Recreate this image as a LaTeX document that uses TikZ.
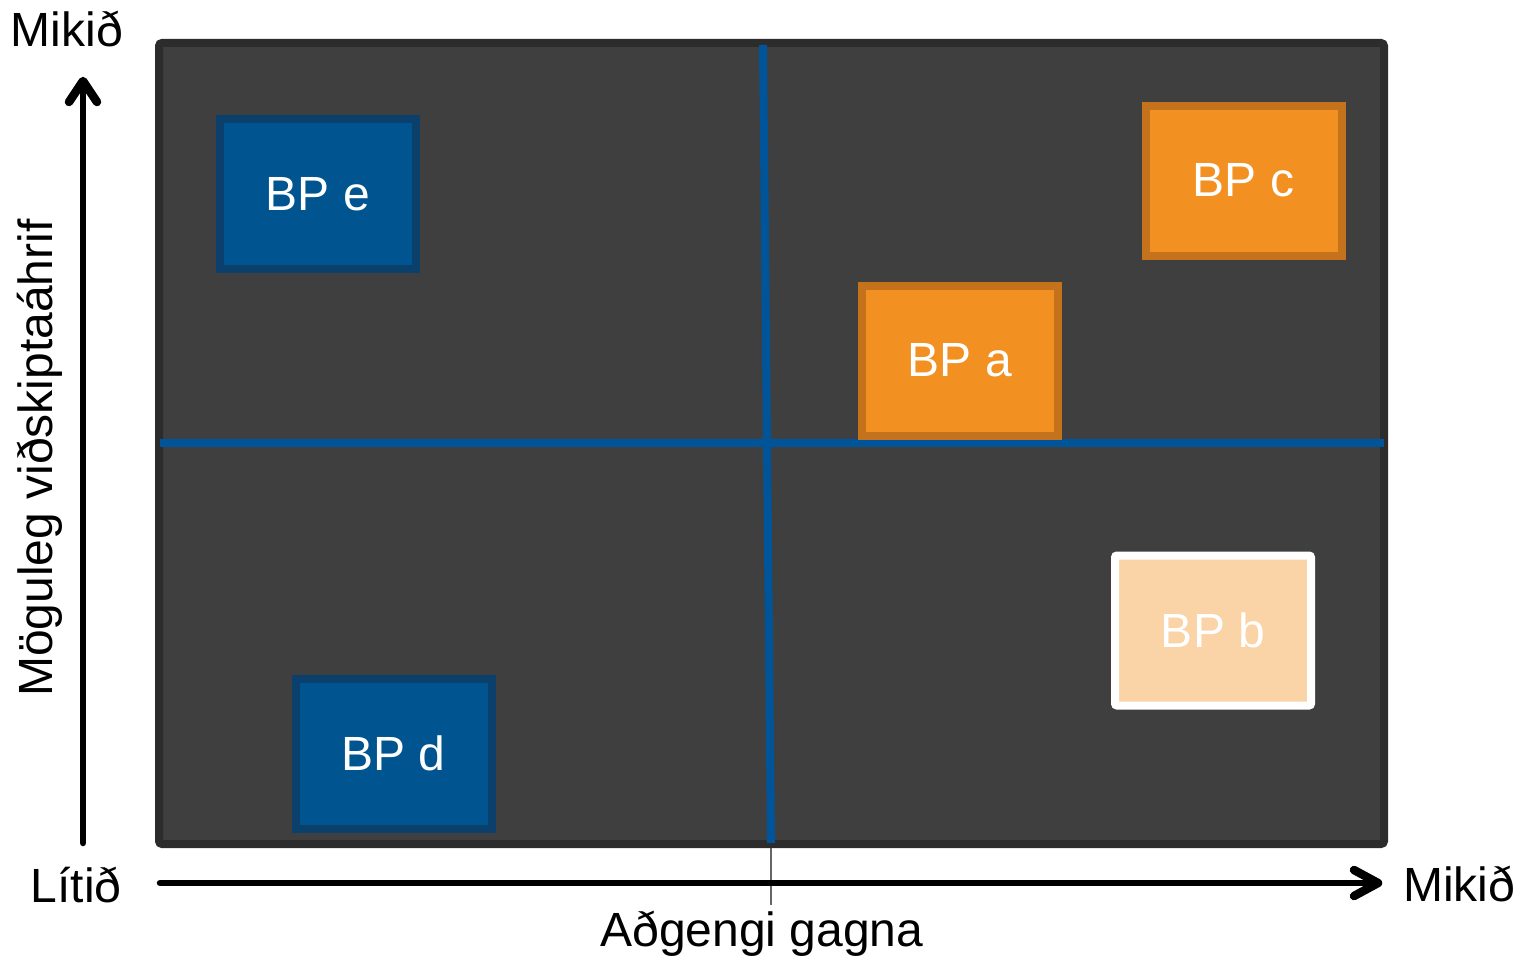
\documentclass[tikz,border=0pt]{standalone}
\usepackage{fontspec}
\setmainfont{Liberation Sans}
\definecolor{panelfill}{HTML}{3F3F3F}
\definecolor{paneledge}{HTML}{2C2C2C}
\definecolor{qline}{HTML}{00559A}
\definecolor{bluefill}{HTML}{00548F}
\definecolor{blueedge}{HTML}{0B3F6C}
\definecolor{orangefill}{HTML}{F29021}
\definecolor{orangeedge}{HTML}{C5721C}
\definecolor{lightfill}{HTML}{FAD3A6}
\tikzset{
  bpbox/.style={rectangle, line width=8pt, minimum width=196pt, minimum height=150pt,
    text=white, font=\fontsize{48}{52}\selectfont, inner sep=0pt},
  bpblue/.style={bpbox, fill=bluefill, draw=blueedge},
  bporange/.style={bpbox, fill=orangefill, draw=orangeedge},
  bplight/.style={bpbox, fill=lightfill, draw=white, rounded corners=2pt},
  axlabel/.style={font=\fontsize{48}{52}\selectfont, inner sep=0pt, anchor=base},
  axline/.style={line width=6.5pt, line cap=round, line join=round},
  axhead/.style={line width=8.5pt, line cap=round, line join=round},
  quad/.style={line width=8pt, draw=qline}
}
\begin{document}
\begin{tikzpicture}[x=1pt,y=-1pt]
\useasboundingbox (0,0) rectangle (1525,958);
% panel
\node (panel) [draw=paneledge, fill=panelfill, line width=8pt, rounded corners=3pt,
  minimum width=1225pt, minimum height=801pt, inner sep=0pt] at (771.5,443.5) {};
% quadrant lines
\coordinate (vt) at (763,45);
\coordinate (vb) at (771,843);
\coordinate (hl) at (160,443);
\coordinate (hr) at (1384,443);
\draw[quad] (vt) -- (vb);
\draw[quad] (hl) -- (hr);
% thin tick
\coordinate (tt) at (771,848);
\coordinate (tb) at (771,905);
\draw[black!60, line width=1.5pt] (tt) -- (tb);
% boxes
\node (e) [bpblue] at (318,194) {BP e};
\node (d) [bpblue] at (393.5,753.5) {BP d};
\node (c) [bporange] at (1243.5,180.5) {BP c};
\node (a) [bporange] at (960,360.5) {BP a};
\node (b) [bplight] at (1213,630.5) {BP b};
% axes
\coordinate (yb) at (83,843);
\coordinate (yt) at (83,81);
\coordinate (xl) at (160,883);
\coordinate (xr) at (1378,883);
\draw[axline] (yb) -- (yt);
\draw[axhead] (yt) ++(-14,21) -- (yt) -- ++(14,21);
\draw[axline] (xl) -- (xr);
\draw[axhead] (xr) ++(-24,-13) -- (xr) -- ++(-24,13);
% labels
\node (ytop) [axlabel] at (67,47) {Mikið};
\node (xleft) [axlabel] at (76,902) {Lítið};
\node (xright) [axlabel] at (1459,901) {Mikið};
\node (xname) [axlabel] at (762,946) {Aðgengi gagna};
\node (yname) [axlabel, rotate=90] at (52,458) {Möguleg viðskiptaáhrif};
\end{tikzpicture}
\end{document}
